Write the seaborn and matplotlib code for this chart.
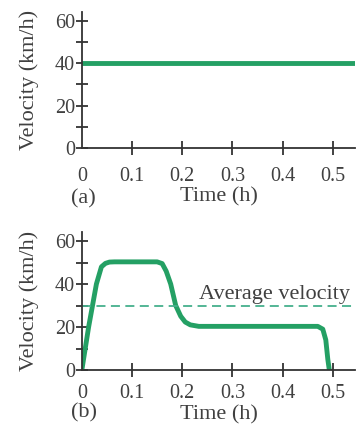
import numpy as np
import matplotlib
matplotlib.use("Agg")
import matplotlib.pyplot as plt
import seaborn as sns
from matplotlib.ticker import MultipleLocator

# === data ===
t_a = [0.0, 0.545]
v_a = [40, 40]

t_b = [0.0, 0.0135, 0.029, 0.039, 0.047, 0.055, 0.065, 0.150, 0.160, 0.168, 0.177,
       0.187, 0.197, 0.206, 0.216, 0.233, 0.470, 0.480, 0.486, 0.490, 0.493]
v_b = [0, 20, 40, 48, 49.6, 50.2, 50.3, 50.3, 49.5, 46, 40,
       30, 25, 22.3, 21, 20.3, 20.3, 19, 14, 5, 0]

avg_v = 30
x_ticks = [0, 0.1, 0.2, 0.3, 0.4, 0.5]
x_labels = ["0", "0.1", "0.2", "0.3", "0.4", "0.5"]
y_ticks = [0, 20, 40, 60]

sns.set_theme(style="white")
plt.rcParams['font.family'] = ['Liberation Serif', 'DejaVu Serif']

GREEN = "#24a064"
DASH = "#45b08c"
TXT = "#404040"
AX = "#333333"
FS_TICK = 14.5
FS_LAB = 16

fig = plt.figure(figsize=(3.59, 4.28), dpi=100)
ax1 = fig.add_axes([0.228, 0.654, 0.762, 0.317])
ax2 = fig.add_axes([0.228, 0.1355, 0.762, 0.3215])


def style(ax, tag, xpad, xlab_y, tag_y):
    ax.set_xlim(0, 0.545)
    ax.set_ylim(0, 64)
    for s in ["top", "right"]:
        ax.spines[s].set_visible(False)
    for s in ["left", "bottom"]:
        ax.spines[s].set_color(AX)
        ax.spines[s].set_linewidth(1.3)
    ax.set_xticks(x_ticks)
    ax.set_xticklabels(x_labels)
    ax.set_yticks(y_ticks)
    ax.yaxis.set_minor_locator(MultipleLocator(10))
    ax.tick_params(axis="y", which="both", direction="inout", length=8.6, width=1.3,
                   color=AX, labelsize=FS_TICK, labelcolor=TXT, left=True, pad=0.7)
    ax.tick_params(axis="x", direction="inout", length=9.7, width=1.3, color=AX,
                   labelsize=FS_TICK, labelcolor=TXT, bottom=True, pad=xpad)
    ax.xaxis.get_major_ticks()[0].tick1line.set_visible(False)
    ax.set_ylabel("Velocity (km/h)", fontsize=FS_LAB, color=TXT)
    ax.yaxis.set_label_coords(-0.158, 0.5)
    ax.set_xlabel("Time (h)", fontsize=FS_LAB, color=TXT)
    ax.xaxis.set_label_coords(0.5, xlab_y)
    ax.text(0.007, tag_y, tag, transform=ax.transAxes, ha="center", va="center",
            fontsize=FS_LAB, color=TXT)


sns.lineplot(x=t_a, y=v_a, ax=ax1, color=GREEN, linewidth=3.5)
style(ax1, "(a)", 8.8, -0.29, -0.375)

sns.lineplot(x=t_b, y=v_b, ax=ax2, color=GREEN, linewidth=3.5, sort=False)
ax2.axhline(avg_v, color=DASH, linewidth=1.3, linestyle=(0, (5, 3)))
ax2.text(0.535, avg_v + 3.2, "Average velocity", ha="right", va="baseline",
         fontsize=FS_LAB, color=TXT)
style(ax2, "(b)", 5.2, -0.255, -0.31)

fig.savefig("out.png", dpi=100, facecolor="white")
